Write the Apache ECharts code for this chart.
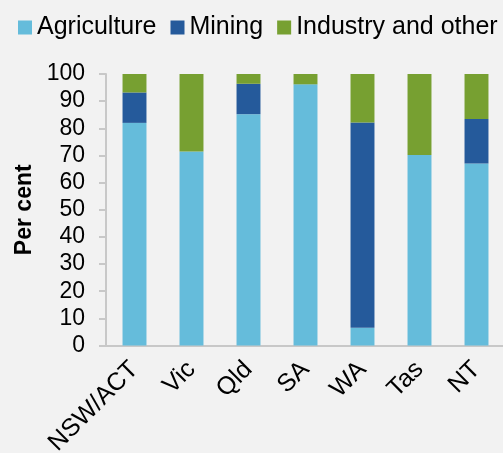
<!DOCTYPE html>
<html><head><meta charset="utf-8">
<script src="https://cdn.jsdelivr.net/npm/echarts@6/dist/echarts.min.js"></script>
<style>html,body{margin:0;padding:0;background:#f2f2f2;}#c{width:503px;height:453px;}</style>
</head><body><div id="c"></div>
<script>
const categories = ['NSW/ACT','Vic','Qld','SA','WA','Tas','NT'];
const agriculture = [82, 71.5, 85.2, 96.2, 6.5, 70.2, 67];
const mining = [11.2, 0, 11.2, 0, 75.6, 0, 16.4];
const industry = [6.8, 28.5, 3.6, 3.8, 17.9, 29.8, 16.6];
const yTicks = [0,10,20,30,40,50,60,70,80,90,100];

const chart = echarts.init(document.getElementById('c'));
const font = 'Liberation Sans, Arial, sans-serif';
const fs = 23;
const mk = (name, data, color) => ({
  name, type: 'bar', stack: 'a', data, barWidth: '42%',
  itemStyle: { color }, emphasis: { disabled: true }
});
chart.setOption({
  backgroundColor: '#f2f2f2',
  animation: false,
  legend: {
    top: 10, left: 13, itemWidth: 14, itemHeight: 14, itemGap: 14,
    icon: 'rect',
    textStyle: { fontFamily: font, fontSize: 25, color: '#000' },
    data: ['Agriculture','Mining','Industry and other']
  },
  grid: { left: 106, top: 74, width: 399, height: 271.5, outerBoundsMode: 'none', containLabel: false },
  xAxis: {
    type: 'category', data: categories,
    axisLine: { lineStyle: { color: '#c8c8c8', width: 2 } },
    axisTick: { show: false },
    axisLabel: { rotate: 45, fontFamily: font, fontSize: 25, color: '#000', margin: 20, interval: 0 }
  },
  yAxis: {
    type: 'value', min: 0, max: 100, interval: 10,
    name: 'Per cent', nameLocation: 'middle', nameGap: 69,
    nameTextStyle: { fontFamily: font, fontSize: fs, fontWeight: 'bold', color: '#000' },
    axisLine: { show: true, lineStyle: { color: '#c8c8c8', width: 2 } },
    axisTick: { show: true, length: 7, lineStyle: { color: '#c8c8c8', width: 2 } },
    splitLine: { show: false },
    axisLabel: { fontFamily: font, fontSize: fs, color: '#000', margin: 21,
      formatter: v => yTicks.includes(v) ? String(v) : '' }
  },
  series: [
    mk('Agriculture', agriculture, '#65bcdb'),
    mk('Mining', mining, '#255a9b'),
    mk('Industry and other', industry, '#77a031')
  ]
});
</script></body></html>
